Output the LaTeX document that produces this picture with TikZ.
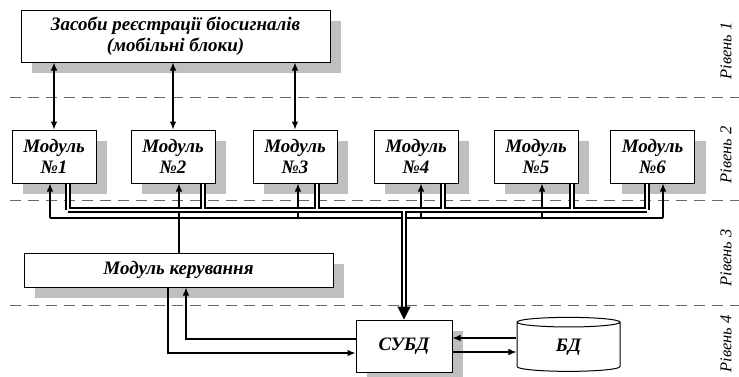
\documentclass[tikz,border=0pt]{standalone}
\usepackage{fontspec}
\setmainfont{Liberation Serif}
\usetikzlibrary{arrows.meta,shapes.geometric,shadows}

\tikzset{
	block/.style={draw, line width=1pt, fill=white, align=center, inner sep=0pt,
		font=\bfseries\itshape\fontsize{19}{21}\selectfont,
		drop shadow={shadow xshift=11pt, shadow yshift=-11pt, fill=black!25, opacity=1}},
	modbox/.style={block, minimum width=84pt, minimum height=53pt},
	store/.style={shape=cylinder, shape border rotate=90, aspect=0.38, draw, line width=1pt,
		fill=white, inner sep=0pt, minimum width=103pt, minimum height=54pt,
		font=\bfseries\itshape\fontsize{19}{21}\selectfont},
	level/.style={font=\itshape\fontsize{16.5}{18}\selectfont, rotate=90, inner sep=0pt},
	divider/.style={draw=black!60, line width=1pt, dash pattern={on 11pt off 7pt}},
	wire/.style={line width=1.1pt},
	arr/.style={wire, -{Latex[length=8pt,width=6.5pt]}},
	biarr/.style={wire, {Latex[length=8pt,width=6.5pt]}-{Latex[length=8pt,width=6.5pt]}},
	bus/.style={line width=1.3pt, double=white, double distance=2.6pt}
}

\begin{document}
\begin{tikzpicture}[x=1pt,y=-1pt]
	\useasboundingbox (0,0) rectangle (739,376);
	
	%Level dividers
	\draw [divider] (10,97) -- (739,97);
	\draw [divider] (10,200) -- (739,200);
	\draw [divider] (10,305) -- (739,305);
	
	% Level labels
	\node [level] (lvl1) at (726,51) {Рівень 1};
	\node [level] (lvl2) at (726,155) {Рівень 2};
	\node [level] (lvl3) at (726,258) {Рівень 3};
	\node [level] (lvl4) at (726,344) {Рівень 4};
	
	%Shape: Rectangle [sensors]
	\node [block, minimum width=309pt, minimum height=52pt] (sensors) at (175.5,36) {Засоби реєстрації біосигналів\\(мобільні блоки)};
	%Shape: Rectangle [modules]
	\foreach \i/\x in {1/54,2/173,3/295,4/416,5/536,6/652.5}
		\node [modbox] (m\i) at (\x,156.5) {Модуль\\№\i};
	%Shape: Rectangle [control]
	\node [block, minimum width=309pt, minimum height=34pt] (ctrl) at (178.5,270) {Модуль керування};
	%Shape: Rectangle [dbms]
	\node [block, minimum width=96pt, minimum height=52pt] (dbms) at (404,346) {СУБД};
	%Shape: Can [db]
	\node [store] (db) at (568.5,347) {БД};
	
	%Level 1 -- level 2 links
	\foreach \i in {1,2,3}
		\draw [biarr] (sensors.south -| m\i.north) -- (m\i.north);
	
	%Bus coordinates
	\foreach \i/\a/\b in {1/50/68,2/179/203,3/298/317,4/421/443,5/542/572,6/663/647} {
		\coordinate (a\i) at (\a,218);
		\coordinate (d\i) at (\b,210);
	}
	\coordinate (busD) at (404,210);
	\coordinate (busE) at (404,307);
	
	%Control line
	\draw [wire] (a1) -- (a6);
	\foreach \i in {1,3,4,5,6}
		\draw [arr] (a\i) -- (m\i.south -| a\i);
	\draw [arr] (ctrl.north -| a2) -- (m2.south -| a2);
	
	%Data bus
	\draw [bus] (d1) -- (d6) foreach \i in {1,...,6} {(m\i.south -| d\i) -- (d\i)} (busD) -- (busE);
	\draw [wire, -{Triangle[length=13pt,width=13pt]}] (busE) -- (dbms.north);
	
	%Control -- dbms
	\coordinate (k1) at (168,353);
	\coordinate (k2) at (186,339);
	\draw [arr] (ctrl.south -| k1) -- (k1) -- (dbms.west |- k1);
	\draw [arr] (dbms.west |- k2) -- (k2) -- (ctrl.south -| k2);
	
	%Dbms -- db
	\coordinate (s1) at (485,338);
	\coordinate (s2) at (485,352);
	\draw [arr] (db.west |- s1) -- (dbms.east |- s1);
	\draw [arr] (dbms.east |- s2) -- (db.west |- s2);
	
\end{tikzpicture}
\end{document}
